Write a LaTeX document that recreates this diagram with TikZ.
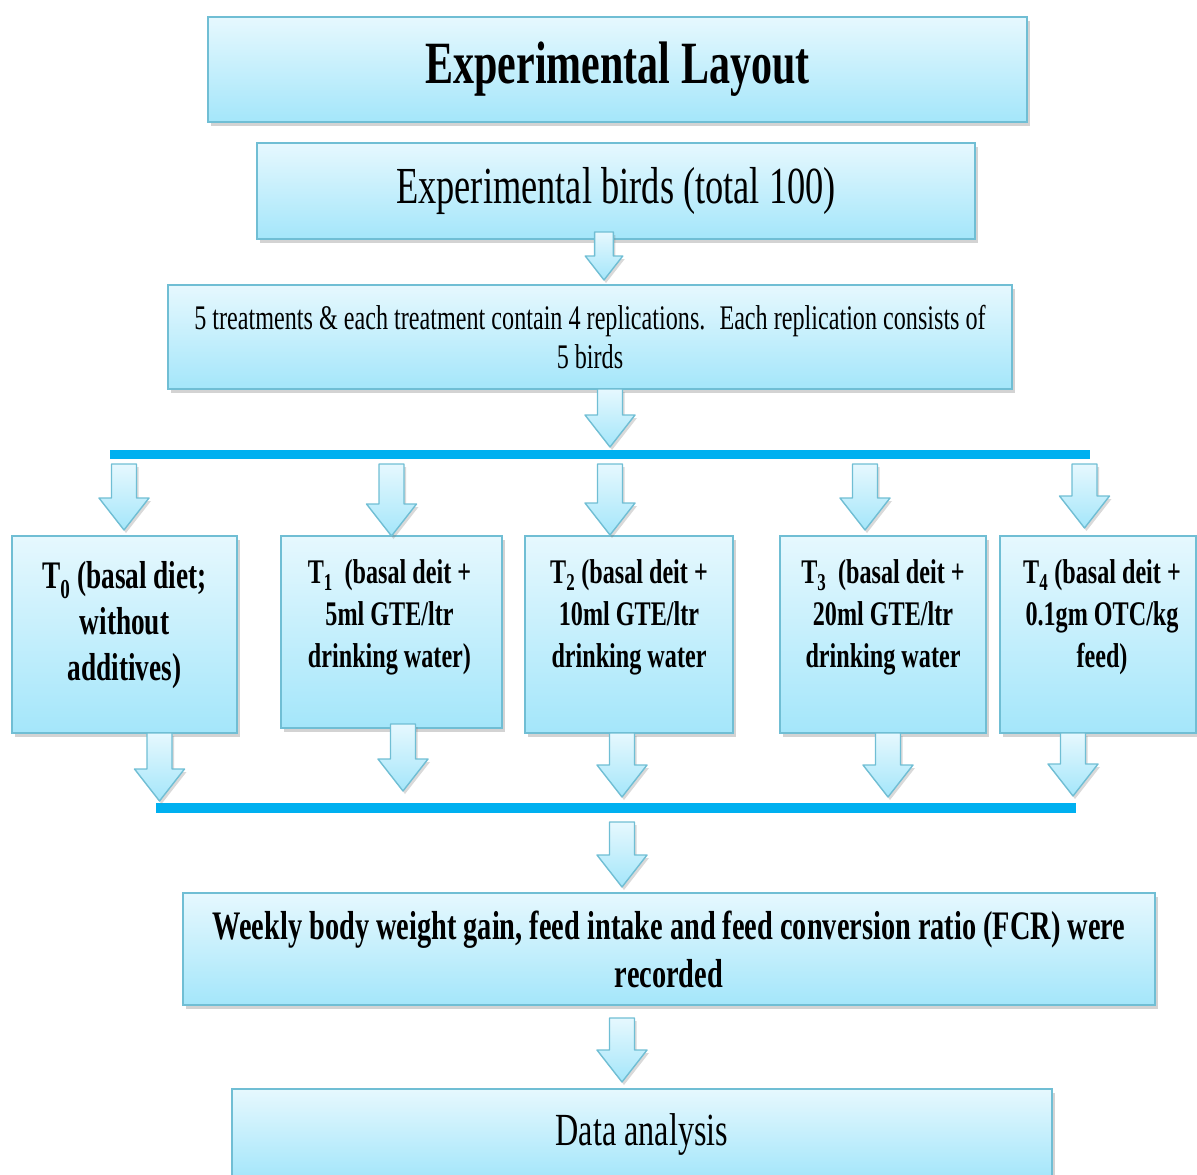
\documentclass[tikz,border=0pt]{standalone}
\usepackage{fontspec}
\setmainfont{Liberation Serif}[FakeStretch=0.7]
\usetikzlibrary{positioning,shadows,calc}

\definecolor{boxtop}{RGB}{230,248,254}
\definecolor{boxbot}{RGB}{164,230,250}
\definecolor{boxline}{RGB}{112,190,212}
\definecolor{barblue}{RGB}{0,176,240}

% block arrow pointing down, from #2 to #3, #1 scales it
\newcommand{\fatarrow}[3][1]{%
  \path[arrowbody] let \p1=#2, \p2=#3 in
    (\x1-12.5*#1,\y1) -- (\x1+12.5*#1,\y1) -- (\x1+12.5*#1,\y2+32*#1)
    -- (\x1+25*#1,\y2+32*#1) -- (\x1,\y2) -- (\x1-25*#1,\y2+32*#1)
    -- (\x1-12.5*#1,\y2+32*#1) -- cycle;}

\begin{document}
\begin{tikzpicture}[x=1pt,y=-1pt,node distance=20pt]
  \tikzstyle{layoutbox}=[rectangle,draw=boxline,line width=1.6pt,top color=boxtop,bottom color=boxbot,
     drop shadow={shadow xshift=3pt,shadow yshift=-4pt,opacity=0.35},inner sep=0pt,align=center]
  \tikzstyle{arrowbody}=[draw=boxline,line width=1.4pt,line join=round,top color=boxtop,bottom color=boxbot,
     drop shadow={shadow xshift=2pt,shadow yshift=-3pt,opacity=0.3}]
  \tikzstyle{blueline}=[draw=barblue,line width=9.5pt]
  \tikzstyle{treattext}=[align=center,inner sep=0pt,font=\bfseries\fontsize{34.5}{42}\selectfont]

  \useasboundingbox (0,0) rectangle (1197,1175);
  \clip (0,0) rectangle (1197,1175);

  \node[layoutbox,minimum width=819pt,minimum height=105pt,font=\bfseries\fontsize{60}{66}\selectfont]
       (title) at (617.5,69.5) {Experimental Layout};
  \node[layoutbox,minimum width=718pt,minimum height=96pt,font=\fontsize{52}{58}\selectfont]
       (birds) at (616,191) {Experimental birds (total 100)};
  \node[layoutbox,minimum width=844pt,minimum height=104pt,font=\fontsize{34.5}{39}\selectfont]
       (treat) at (590,337) {5 treatments \& each treatment contain 4 replications.~ Each replication consists of\\5 birds};

  % treatment boxes
  \node[layoutbox,minimum width=225pt,minimum height=197pt] (t0) at (124.5,634.5) {};
  \node[layoutbox,minimum width=221pt,minimum height=192pt] (t1) at (391.5,632) {};
  \node[layoutbox,minimum width=208pt,minimum height=197pt] (t2) at (629,634.5) {};
  \node[layoutbox,minimum width=206pt,minimum height=197pt] (t3) at (883,634.5) {};
  \node[layoutbox,minimum width=196pt,minimum height=197pt] (t4) at (1098,634.5) {};

  \node[treattext,font=\bfseries\fontsize{39}{46}\selectfont,below=26pt of t0.north] (t0txt)
       {T\textsubscript{0} (basal diet;\\without\\additives)};
  \node[treattext,below=24pt of t1.north,xshift=-2pt] (t1txt) {T\textsubscript{1}\, (basal deit +\\5ml GTE/ltr\\drinking water)};
  \node[treattext,below=24pt of t2.north] (t2txt) {T\textsubscript{2} (basal deit +\\10ml GTE/ltr\\drinking water};
  \node[treattext,below=24pt of t3.north] (t3txt) {T\textsubscript{3}\, (basal deit +\\20ml GTE/ltr\\drinking water};
  \node[treattext,below=24pt of t4.north,xshift=4pt] (t4txt) {T\textsubscript{4} (basal deit +\\0.1gm OTC/kg\\feed)};

  \node[layoutbox,minimum width=972pt,minimum height=112pt,font=\bfseries\fontsize{40.5}{48}\selectfont]
       (weekly) at (669,949) {Weekly body weight gain, feed intake and feed conversion ratio (FCR) were\\recorded};
  \node[layoutbox,minimum width=820pt,minimum height=90pt,font=\fontsize{46}{52}\selectfont]
       (data) at (642,1134) {Data analysis};

  % blue bars
  \coordinate (bar1w) at (110,454.5);
  \coordinate (bar1e) at (1090,454.5);
  \coordinate (bar2w) at (156,808);
  \coordinate (bar2e) at (1076,808);
  \draw[blueline] (bar1w) -- (bar1e);
  \draw[blueline] (bar2w) -- (bar2e);

  % block arrows
  \fatarrow[0.75]{(604,232)}{(604,280)}
  \fatarrow{(610,389)}{(610,447)}
  \foreach \ax/\atip in {124/530,391.5/536,610/535,865/530,1084.5/528}
    {\fatarrow{(\ax,464)}{(\ax,\atip)}}
  \foreach \ax/\atop/\atip in {159.5/733/801,403/724/791,622/733/797,888/733/797,1073/733/796}
    {\fatarrow{(\ax,\atop)}{(\ax,\atip)}}
  \fatarrow{(622,822)}{(622,887)}
  \fatarrow{(622,1018)}{(622,1082)}
\end{tikzpicture}
\end{document}
